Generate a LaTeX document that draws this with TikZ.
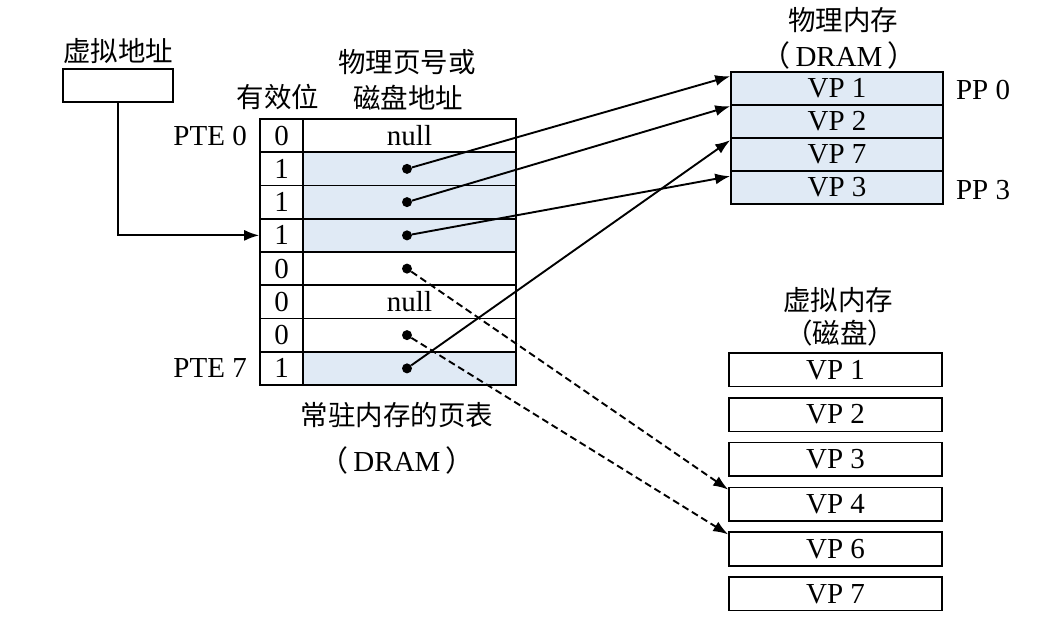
\documentclass[tikz,border=0pt]{standalone}
\usepackage{fontspec}
\setmainfont{Liberation Serif}
\newfontfamily\cjk{Noto Sans CJK SC}
\usetikzlibrary{arrows.meta,calc}
\definecolor{pg}{HTML}{E0EAF5}
\begin{document}
\begin{tikzpicture}[x=1pt,y=-1pt,
  every node/.style={font=\fontsize{29}{32}\selectfont, inner sep=0pt},
  box/.style={draw, line width=1.6pt, minimum height=33.25pt},
  vcell/.style={box, minimum width=43pt, fill=white},
  acell/.style={box, minimum width=213pt},
  pcell/.style={draw, line width=1.6pt, minimum height=33pt, minimum width=212pt, fill=pg},
  dcell/.style={draw, line width=1.6pt, minimum height=33.5pt, minimum width=213pt, fill=white},
  dot/.style={circle, fill=black, minimum size=10pt},
  arr/.style={line width=1.9pt, -{Latex[length=15pt,width=11pt]}},
  darr/.style={arr, dash pattern=on 7pt off 4pt},
  cjkl/.style={font=\fontsize{27.5}{32}\selectfont\cjk}
]
\useasboundingbox[fill=white] (0,0) rectangle (1062,628);

% virtual address
\node[cjkl] (valbl) at (118,51) {虚拟地址};
\node[draw, line width=1.6pt, minimum width=110pt, minimum height=33pt] (va) at (118,85.5) {};

% page table headers
\node[cjkl] (hvalid) at (278,97) {有效位};
\node[cjkl] (haddr1) at (407,62) {物理页号或};
\node[cjkl] (haddr2) at (408,98) {磁盘地址};

% page table rows
\foreach \i/\v/\f/\t in {0/0/white/null,1/1/pg/,2/1/pg/,3/1/pg/,4/0/white/,5/0/white/null,6/0/white/,7/1/pg/}{
  \node[vcell] (v\i) at (281.5,{135.625+33.25*\i}) {\v};
  \node[acell, fill=\f] (a\i) at (409.5,{135.625+33.25*\i}) {\t};
}
\foreach \i in {1,2,3,4,6,7}{
  \node[dot] (d\i) at (407,{135.625+33.25*\i}) {};
}
\node[anchor=east] (pte0) at (247,135.6) {PTE 0};
\node[anchor=east] (pte7) at (247,368.4) {PTE 7};

\node[cjkl] (ptlbl) at (397,415) {常驻内存的页表};
\node (ptlbl2) at (397,460) {{\cjk （}\,DRAM\,{\cjk ）}};

% physical memory
\node[cjkl] (pmlbl) at (843,20) {物理内存};
\node (pmlbl2) at (839,55) {{\cjk （}\,DRAM\,{\cjk ）}};
\foreach \i/\t in {0/VP 1,1/VP 2,2/VP 7,3/VP 3}{
  \node[pcell] (p\i) at (837,{88.5+33*\i}) {\t};
}
\node (pp0) at (983,90) {PP 0};
\node (pp3) at (983,190) {PP 3};

% disk
\node[cjkl] (vmlbl) at (838,300) {虚拟内存};
\node[cjkl] (vmlbl2) at (840,333) {（磁盘）};
\foreach \i/\t in {1/VP 1,2/VP 2,3/VP 3,4/VP 4,5/VP 6,6/VP 7}{
  \node[dcell] (k\i) at (835.5,{369.75+44.8*(\i-1)}) {\t};
}

% connectors
\draw[arr] (va.south) |- (v3.west);
\draw[arr] (d1) -- ($(p0.north west)+(0,5)$);
\draw[arr] (d2) -- ($(p1.north west)+(0,2)$);
\draw[arr] (d3) -- ($(p3.north west)+(0,6)$);
\draw[arr] (d7) -- ($(p2.north west)+(0,3)$);
\draw[darr] (d4) -- ($(k4.north west)+(0,3)$);
\draw[darr] (d6) -- ($(k5.north west)+(0,3)$);
\end{tikzpicture}
\end{document}
